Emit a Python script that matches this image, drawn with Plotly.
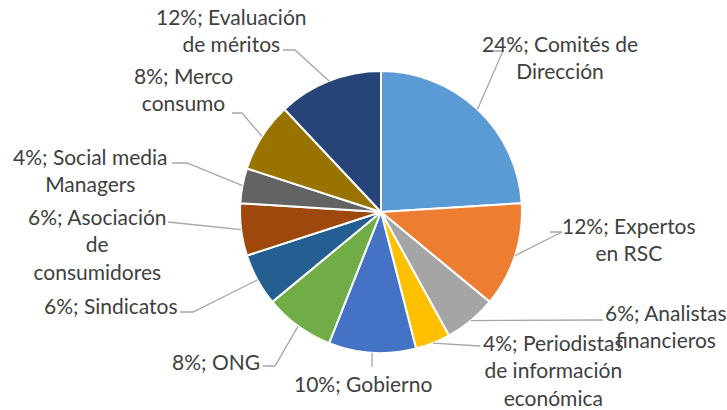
import numpy as np
import plotly.graph_objects as go

labels = ["Comités de Dirección", "Expertos en RSC", "Analistas financieros",
          "Periodistas de información económica", "Gobierno", "ONG", "Sindicatos",
          "Asociación de consumidores", "Social media Managers", "Merco consumo",
          "Evaluación de méritos"]
values = [24, 12, 6, 4, 10, 8, 6, 6, 4, 8, 12]
label_texts = ["24%; Comités de<br>Dirección", "12%; Expertos<br>en RSC",
               "6%; Analistas<br>financieros", "4%; Periodistas<br>de información<br>económica",
               "10%; Gobierno", "8%; ONG", "6%; Sindicatos",
               "6%; Asociación<br>de<br>consumidores", "4%; Social media<br>Managers",
               "8%; Merco<br>consumo", "12%; Evaluación<br>de méritos"]
colors = ["#5B9BD5", "#ED7D31", "#A5A5A5", "#FFC000", "#4472C4", "#70AD47",
          "#255E91", "#9E480E", "#636363", "#997300", "#264478"]

W, H = 727, 410
CX, CY, R = 381, 212, 141

# label placement (text center x, text center y) and leader elbow/end points
label_pos = [
    (560, 57), (629, 239), (666, 326), (553, 370),
    (363, 383), (216, 361), (111, 305), (97, 244),
    (90, 170), (183, 89), (231, 30),
]
leader_pts = [
    [(493, 51), (503, 51)], [(550, 232), (562, 232)], [(603, 320)], [(480, 346)],
    [(372, 367)], [(263, 366), (275, 366)], [(180, 312), (193, 312)],
    [(168, 222)], [(172, 163), (187, 163)], [(232, 113), (242, 113)], [(283, 50), (295, 50)],
]

fig = go.Figure(go.Pie(
    labels=labels, values=values, sort=False, direction="clockwise", rotation=0,
    marker=dict(colors=colors, line=dict(color="white", width=2)),
    textinfo="none", hoverinfo="label+percent", showlegend=False,
    domain=dict(x=[(CX - R) / W, (CX + R) / W], y=[1 - (CY + R) / H, 1 - (CY - R) / H]),
))

total = sum(values)
cum = 0
shapes = []
annotations = []
for v, txt, (tx, ty), pts in zip(values, label_texts, label_pos, leader_pts):
    mid = (cum + v / 2) / total * 2 * np.pi
    cum += v
    sx, sy = CX + R * np.sin(mid), CY - R * np.cos(mid)
    path_pts = [(sx, sy)] + list(reversed(pts))
    path = "M " + " L ".join(f"{x / W:.5f},{1 - y / H:.5f}" for x, y in path_pts)
    shapes.append(dict(type="path", xref="paper", yref="paper", path=path,
                       line=dict(color="#A6A6A6", width=1.3)))
    annotations.append(dict(x=tx / W, y=1 - ty / H, xref="paper", yref="paper",
                            text=txt, showarrow=False, align="center",
                            xanchor="center", yanchor="middle",
                            font=dict(family="Lato", size=21, color="#404040")))

fig.update_layout(width=W, height=H, margin=dict(l=0, r=0, t=0, b=0),
                  paper_bgcolor="white", plot_bgcolor="white",
                  shapes=shapes, annotations=annotations)
fig.write_html("out.html", config={"displayModeBar": False},
               post_script="document.body.style.margin='0';document.body.style.overflow='hidden';")
